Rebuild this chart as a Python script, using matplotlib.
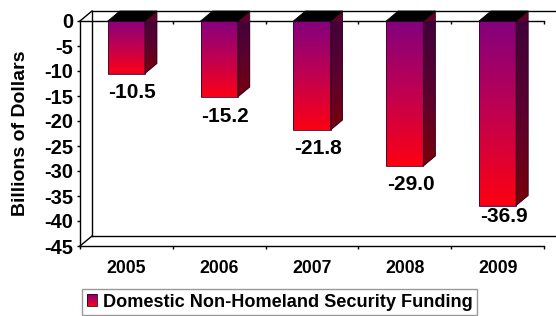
import numpy as np
import matplotlib
matplotlib.use("Agg")
import matplotlib.pyplot as plt
from matplotlib.patches import Polygon, Rectangle
from matplotlib.legend_handler import HandlerBase
from matplotlib.colors import LinearSegmentedColormap

# ---- data ----
years = ["2005", "2006", "2007", "2008", "2009"]
values = [-10.5, -15.2, -21.8, -29.0, -36.9]
value_labels = ["-10.5", "-15.2", "-21.8", "-29.0", "-36.9"]
series_name = "Domestic Non-Homeland Security Funding"
yticks = [0, -5, -10, -15, -20, -25, -30, -35, -40, -45]

# ---- style ----
plt.rcParams['font.family'] = ['Liberation Sans', 'DejaVu Sans']
plt.rcParams['font.weight'] = 'bold'
FS_TICK = 14.5
FS_VAL = 15
FS_YEAR = 12.7
FS_LEG = 13.1
FS_YLAB = 14
W, H, DPI = 556, 316, 100
DEPTH_PX = (12, 10)          # 3-D depth offset in pixels (right, up)
BAR_W = 0.4
LABEL_GAP_PX = [19, 19, 18, 19, 11]

front_cmap = LinearSegmentedColormap.from_list("f", ["#800080", "#c00050", "#ff0010"])
side_cmap = LinearSegmentedColormap.from_list("s", ["#3c003c", "#5a0030", "#7a0008"])

fig = plt.figure(figsize=(W / DPI, H / DPI), dpi=DPI)
ax = fig.add_axes([80 / W, 70 / H, 464 / W, 225 / H])
n = len(years)
ax.set_xlim(0, n)
ax.set_ylim(-45, 0)

# conversion of pixel depth to data units
px_x = ax.bbox.width / n
px_y = ax.bbox.height / 45.0
DX = DEPTH_PX[0] / px_x
DY = DEPTH_PX[1] / px_y
ex = 3 / px_x   # overdraw for gradients (clipped by faces)
ey = 3 / px_y

# ---- 3-D frame (back wall + floor) ----
frame_kw = dict(color="black", lw=1.0, clip_on=False, zorder=1)
ax.plot([DX, DX], [DY, -45 + DY], **frame_kw)           # back left vertical
ax.plot([DX, n + DX], [DY, DY], **frame_kw)             # back top
ax.plot([DX, n + DX], [-45 + DY, -45 + DY], **frame_kw) # back bottom
ax.plot([0, DX], [0, DY], **frame_kw)                   # top-left diagonal
ax.plot([0, DX], [-45, -45 + DY], **frame_kw)           # bottom-left diagonal
ax.plot([0, n], [0, 0], color="black", lw=1.0, clip_on=False, zorder=2)  # zero line
ax.vlines(np.arange(1, n + 1), 0, -3 / px_y, color="black", lw=1.0, clip_on=False, zorder=2)

# ---- bars ----
grad = np.linspace(0, 1, 256).reshape(-1, 1)
for i, v in enumerate(values):
    x0 = i + 0.5 - BAR_W / 2
    x1 = x0 + BAR_W
    # front face: solid base + gradient
    ax.add_patch(Rectangle((x0, v), BAR_W, -v, facecolor=front_cmap(0.6),
                           edgecolor="none", zorder=3.5, clip_on=False))
    front = Rectangle((x0, v), BAR_W, -v, facecolor="none",
                      edgecolor="#400030", lw=0.6, zorder=5, clip_on=False)
    im = ax.imshow(grad, cmap=front_cmap, aspect="auto",
                   extent=[x0 - ex, x1 + ex, v - ey, ey], origin="upper",
                   zorder=4, interpolation="bilinear")
    ax.add_patch(front)
    im.set_clip_path(front)
    # side face
    side_pts = [[x1, 0], [x1 + DX, DY], [x1 + DX, v + DY], [x1, v]]
    ax.add_patch(Polygon(side_pts, closed=True, facecolor=side_cmap(0.6),
                         edgecolor="none", zorder=3.5, clip_on=False))
    side = Polygon(side_pts, closed=True, facecolor="none", edgecolor="#300020",
                   lw=0.6, zorder=5, clip_on=False)
    ims = ax.imshow(grad, cmap=side_cmap, aspect="auto",
                    extent=[x1 - ex, x1 + DX + ex, v - ey, DY + ey], origin="upper",
                    zorder=4, interpolation="bilinear")
    ax.add_patch(side)
    ims.set_clip_path(side)
    # top face
    top = Polygon([[x0, 0], [x0 + DX, DY], [x1 + DX, DY], [x1, 0]],
                  closed=True, facecolor="black", edgecolor="black",
                  lw=0.6, zorder=5, clip_on=False)
    ax.add_patch(top)
    # value label
    ax.annotate(value_labels[i], xy=(i + 0.5 + DX / 2, v),
                xytext=(0, -LABEL_GAP_PX[i] * 72 / DPI),
                textcoords="offset points", ha="center", va="center",
                fontsize=FS_VAL, fontweight="bold", zorder=6, annotation_clip=False)

ax.set_xlim(0, n)
ax.set_ylim(-45, 0)

# ---- axes styling ----
for s in ["top", "right"]:
    ax.spines[s].set_visible(False)
ax.spines["left"].set_linewidth(1.0)
ax.spines["bottom"].set_linewidth(1.0)
ax.spines["left"].set_zorder(3)
ax.spines["bottom"].set_zorder(3)
ax.patch.set_visible(False)

ax.set_yticks(yticks)
ax.set_yticklabels([str(t) for t in yticks], fontsize=FS_TICK, fontweight="bold")
ax.tick_params(axis="y", direction="out", length=3 * 72 / DPI, width=1.0,
               pad=4 * 72 / DPI)

ax.set_xticks(np.arange(n) + 0.5)
ax.set_xticklabels(years, fontsize=FS_YEAR, fontweight="bold")
ax.set_xticks(np.arange(0, n + 1), minor=True)
ax.tick_params(axis="x", which="major", length=0, pad=14 * 72 / DPI)
ax.tick_params(axis="x", which="minor", direction="out", length=3 * 72 / DPI, width=1.0)

ax.set_ylabel("Billions of Dollars", fontsize=FS_YLAB, fontweight="bold")
ax.yaxis.set_label_coords((29 - 80) / 464, 0.5)

# ---- legend with gradient swatch ----
class GradHandler(HandlerBase):
    def create_artists(self, legend, orig_handle, xdescent, ydescent,
                       width, height, fontsize, trans):
        arts = []
        k = 12
        for j in range(k):
            c = front_cmap(1 - (j + 0.5) / k)
            arts.append(Rectangle((-xdescent, -ydescent + j * height / k), width,
                                  height / k, facecolor=c, edgecolor="none",
                                  transform=trans))
        arts.append(Rectangle((-xdescent, -ydescent), width, height,
                              facecolor="none", edgecolor="#300020", lw=0.6,
                              transform=trans))
        return arts

proxy = Rectangle((0, 0), 1, 1)
leg = fig.legend([proxy], [series_name], handler_map={Rectangle: GradHandler()},
                 loc="upper left", bbox_to_anchor=(82 / W, 1 - 289 / H),
                 borderaxespad=0, fancybox=False, frameon=True,
                 prop=dict(size=FS_LEG, weight="bold"), handlelength=0.6,
                 handleheight=0.6, handletextpad=0.3, borderpad=0.25)
leg.get_frame().set_edgecolor("#808080")
leg.get_frame().set_linewidth(1.0)

fig.savefig("out.png", dpi=DPI)
